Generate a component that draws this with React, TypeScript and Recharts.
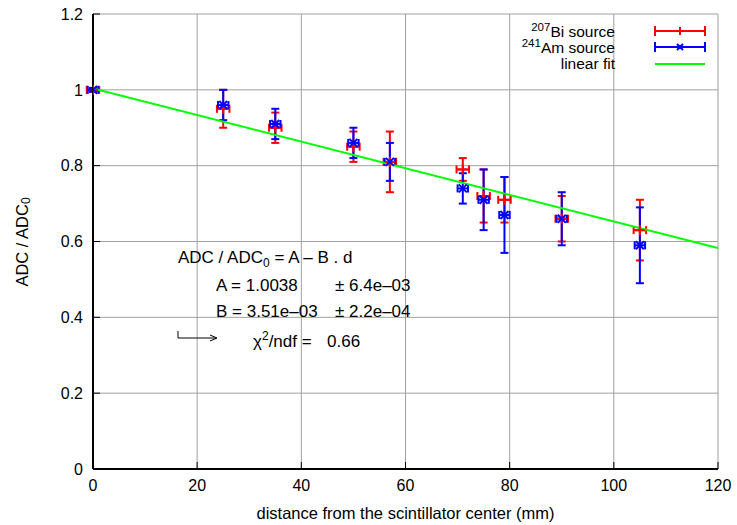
import {
  ComposedChart,
  Scatter,
  ErrorBar,
  XAxis,
  YAxis,
  CartesianGrid,
} from "recharts";

// distance (mm) of each measurement point
const distances = [0, 25, 35, 50, 57, 71, 75, 79, 90, 105];

// 207Bi source
const biRatio = [1.0, 0.95, 0.9, 0.85, 0.81, 0.79, 0.72, 0.71, 0.66, 0.63];
const biErr = [0.005, 0.05, 0.04, 0.04, 0.08, 0.03, 0.07, 0.06, 0.06, 0.08];
const biDistErr = [1.2, 1.2, 1.2, 1.2, 1.2, 1.2, 1.2, 1.2, 1.2, 1.2];

// 241Am source
const amRatio = [1.0, 0.96, 0.91, 0.86, 0.81, 0.74, 0.71, 0.67, 0.66, 0.59];
const amErr = [0.005, 0.04, 0.04, 0.04, 0.05, 0.04, 0.08, 0.1, 0.07, 0.1];
const amDistErr = [1, 1, 1, 1, 1, 1, 1, 1, 1, 1];

// linear fit end points
const fitX = [0, 120];
const fitY = [1.0038, 0.5826];

const xTicks = [0, 20, 40, 60, 80, 100, 120];
const yTicks = [0, 0.2, 0.4, 0.6, 0.8, 1, 1.2];

const RED = "#ff0000";
const BLUE = "#0000ff";
const GREEN = "#00ff00";
const FONT = "'Liberation Sans', Arial, sans-serif";

const biData = distances.map((d, i) => ({ x: d, y: biRatio[i], ey: biErr[i], ex: biDistErr[i] }));
const amData = distances.map((d, i) => ({ x: d, y: amRatio[i], ey: amErr[i], ex: amDistErr[i] }));
const fitData = fitX.map((x, i) => ({ x, y: fitY[i] }));

const plus = (props: any) => {
  const { cx, cy } = props;
  return <path d={`M${cx - 5},${cy}h10M${cx},${cy - 5}v10`} stroke={RED} strokeWidth={2} />;
};

const cross = (props: any) => {
  const { cx, cy } = props;
  return (
    <path
      d={`M${cx - 4},${cy - 4}l8,8M${cx - 4},${cy + 4}l8,-8`}
      stroke={BLUE}
      strokeWidth={2}
    />
  );
};

const none = () => null;

const yLabel = () => (
  <text
    x={22}
    y={242}
    transform="rotate(-90, 22, 242)"
    textAnchor="middle"
    dominantBaseline="central"
    fontSize={16.5}
    fontFamily={FONT}
    fill="#000"
  >
    ADC / ADC
    <tspan fontSize={12} dy={4}>0</tspan>
  </text>
);

export default function App() {
  const txt = { fontSize: 17, fontFamily: FONT, fill: "#000" };
  const leg = { fontSize: 15.5, fontFamily: FONT, fill: "#000" };
  const frame = { stroke: "#000", strokeWidth: 2 };
  const tickLn = { stroke: "#000", strokeWidth: 1 };
  return (
    <div style={{ position: "absolute", left: 0, top: 0, width: 737, height: 525, background: "#fff" }}>
      <ComposedChart width={737} height={525} margin={{ top: 14, right: 19, bottom: 0, left: 0 }}>
        <CartesianGrid stroke="#a0a0a0" strokeWidth={1} horizontalValues={yTicks} verticalValues={xTicks} />
        <XAxis
          type="number"
          dataKey="x"
          domain={[0, 120]}
          ticks={xTicks}
          allowDataOverflow
          height={56}
          tickLine={tickLn}
          tickSize={-7}
          tickMargin={18}
          axisLine={frame}
          tick={{ fill: "#000", fontSize: 16, fontFamily: FONT }}
          label={{
            value: "distance from the scintillator center (mm)",
            position: "insideBottom",
            offset: 6,
            fill: "#000",
            fontSize: 16.5,
            fontFamily: FONT,
          }}
        />
        <YAxis
          type="number"
          dataKey="y"
          domain={[0, 1.2]}
          ticks={yTicks}
          allowDataOverflow
          width={93}
          tickLine={tickLn}
          tickSize={-7}
          tickMargin={17}
          axisLine={frame}
          tick={{ fill: "#000", fontSize: 16, fontFamily: FONT }}
          label={yLabel}
        />
        <XAxis
          xAxisId="top"
          orientation="top"
          type="number"
          domain={[0, 120]}
          ticks={xTicks}
          height={0}
          tick={false}
          tickLine={tickLn}
          tickSize={-7}
          axisLine={frame}
        />
        <YAxis
          yAxisId="right"
          orientation="right"
          type="number"
          domain={[0, 1.2]}
          ticks={yTicks}
          width={0}
          tick={false}
          tickLine={tickLn}
          tickSize={-7}
          axisLine={frame}
        />

        <Scatter data={fitData} line={{ stroke: GREEN, strokeWidth: 2 }} shape={none} isAnimationActive={false} />

        <Scatter data={biData} fill={RED} shape={plus} isAnimationActive={false}>
          <ErrorBar dataKey="ey" direction="y" width={4} stroke={RED} strokeWidth={2} isAnimationActive={false} />
          <ErrorBar dataKey="ex" direction="x" width={4} stroke={RED} strokeWidth={2} isAnimationActive={false} />
        </Scatter>
        <Scatter data={amData} fill={BLUE} shape={cross} isAnimationActive={false}>
          <ErrorBar dataKey="ey" direction="y" width={4} stroke={BLUE} strokeWidth={2} isAnimationActive={false} />
          <ErrorBar dataKey="ex" direction="x" width={4} stroke={BLUE} strokeWidth={2} isAnimationActive={false} />
        </Scatter>

        {/* legend */}
        <g>
          <text x={615} y={37} textAnchor="end" {...leg}>
            <tspan fontSize={11.5} dy={-6}>207</tspan>
            <tspan dy={6}>Bi source</tspan>
          </text>
          <path d="M655,31h50M655,26v10M680,27v8M705,26v10" stroke={RED} strokeWidth={2} />
          <text x={615} y={53} textAnchor="end" {...leg}>
            <tspan fontSize={11.5} dy={-6}>241</tspan>
            <tspan dy={6}>Am source</tspan>
          </text>
          <path d="M655,47h50M655,42v10M705,42v10M677,44l6,6M677,50l6,-6" stroke={BLUE} strokeWidth={2} />
          <text x={615} y={69} textAnchor="end" {...leg}>linear fit</text>
          <path d="M655,64h50" stroke={GREEN} strokeWidth={2} />
        </g>

        {/* fit annotation */}
        <g>
          <text x={178} y={263} {...txt}>
            ADC / ADC<tspan fontSize={12} dy={4}>0</tspan>
            <tspan dy={-4}> = A – B . d</tspan>
          </text>
          <text x={216} y={291} {...txt}>A = 1.0038</text>
          <text x={335} y={291} {...txt}>± 6.4e–03</text>
          <text x={216} y={317} {...txt}>B = 3.51e–03</text>
          <text x={335} y={317} {...txt}>± 2.2e–04</text>
          <path d="M178,331v7h38M210,335l7,3l-7,3" stroke="#000" strokeWidth={1} fill="none" />
          <text x={253} y={347} {...txt}>
            χ<tspan fontSize={12} dy={-7}>2</tspan>
            <tspan dy={7}>/ndf =</tspan>
          </text>
          <text x={327} y={347} {...txt}>0.66</text>
        </g>
      </ComposedChart>
    </div>
  );
}
